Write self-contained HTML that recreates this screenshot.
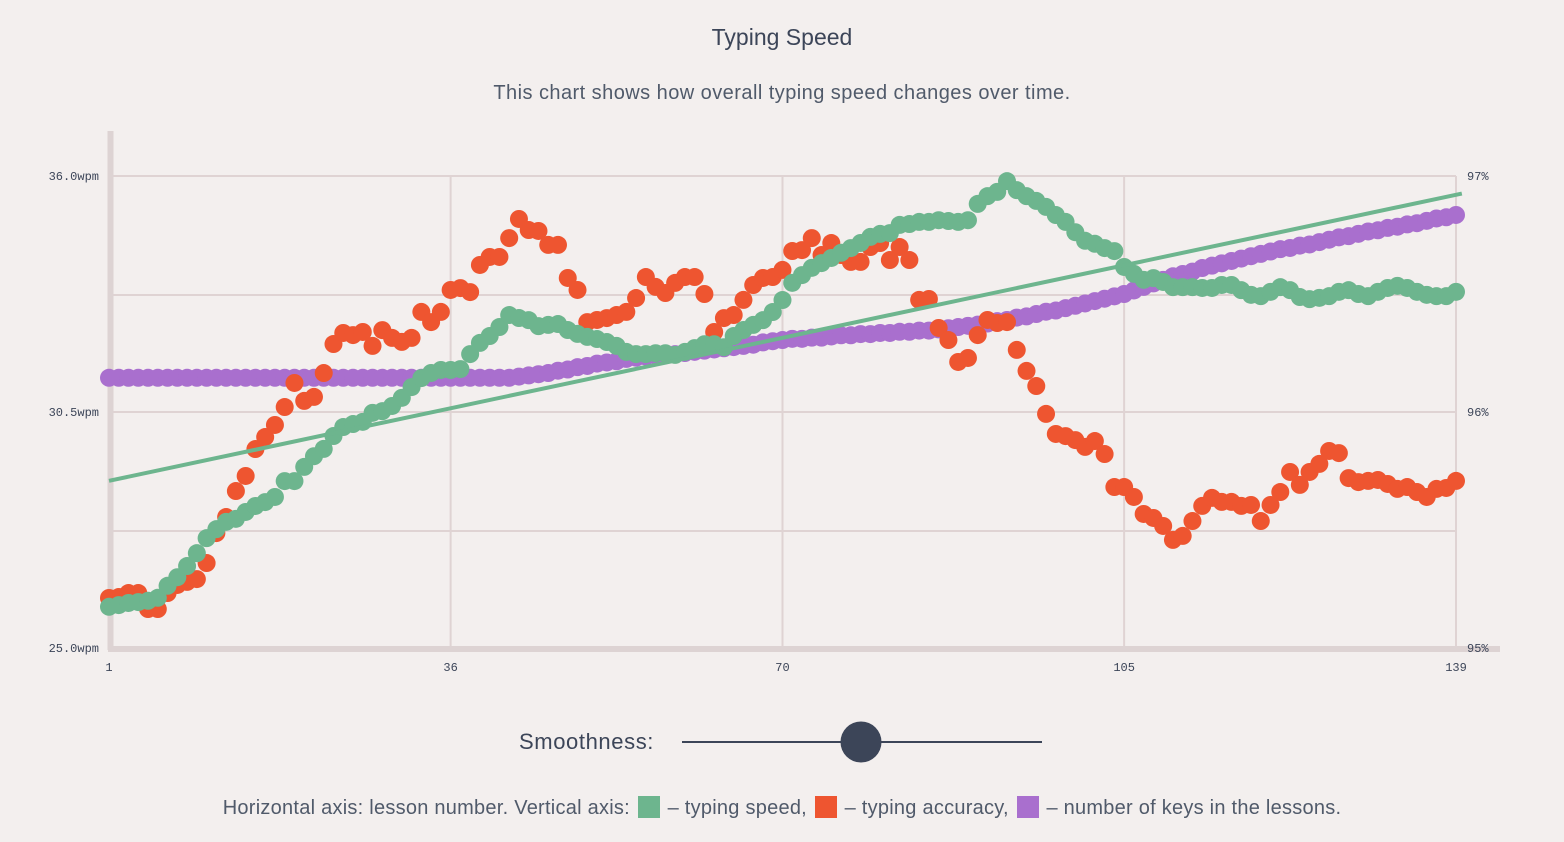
<!DOCTYPE html>
<html><head><meta charset="utf-8">
<style>
html,body{margin:0;padding:0;background:#f3efee;}
body{width:1564px;height:842px;position:relative;overflow:hidden;font-family:"Liberation Sans",sans-serif;color:#3c4558;}
.t{position:absolute;white-space:nowrap;}
#title{left:0;width:1564px;text-align:center;top:24px;font-size:23px;}
#sub{left:0;width:1564px;text-align:center;top:82px;font-size:20px;letter-spacing:0.45px;color:#505a6a;}
#smooth{left:519px;top:729px;font-size:22px;letter-spacing:0.6px;}
#legend{left:0;width:1564px;text-align:center;top:796px;font-size:20px;letter-spacing:0.25px;color:#505a6a;}
.sw{display:inline-block;width:22px;height:22px;vertical-align:-4px;margin:0 2px;}
svg{position:absolute;left:0;top:0;}
</style></head>
<body>
<div class="t" id="title">Typing Speed</div>
<div class="t" id="sub">This chart shows how overall typing speed changes over time.</div>
<svg id="chart" width="1564" height="700"></svg>
<div class="t" id="smooth">Smoothness:</div>
<svg width="1564" height="842" style="pointer-events:none">
<line x1="682" y1="742" x2="1042" y2="742" stroke="#3c4558" stroke-width="2"/>
<circle cx="861" cy="742" r="20.5" fill="#3c4558"/>
</svg>
<div class="t" id="legend">Horizontal axis: lesson number. Vertical axis: <span class="sw" style="background:#6db58e"></span> – typing speed, <span class="sw" style="background:#ee5530"></span> – typing accuracy, <span class="sw" style="background:#a96fce"></span> – number of keys in the lessons.</div>
<script>
const xTicks=[1,36,70,105,139];
const leftTicks=["36.0wpm","30.5wpm","25.0wpm"];
const leftTickVals=[36,30.5,25];
const rightTicks=["97%","96%","95%"];
const rightTickVals=[97,96,95];
const speed=[25.96,26.00,26.05,26.07,26.10,26.17,26.45,26.65,26.91,27.21,
27.56,27.77,27.94,28.01,28.17,28.31,28.40,28.52,28.89,28.89,
29.22,29.47,29.64,29.94,30.15,30.22,30.27,30.48,30.52,30.64,
30.83,31.08,31.29,31.41,31.48,31.48,31.50,31.85,32.11,32.27,
32.48,32.76,32.69,32.64,32.50,32.53,32.55,32.41,32.32,32.25,
32.20,32.13,32.04,31.90,31.85,31.85,31.87,31.87,31.83,31.90,
31.99,32.08,32.08,32.01,32.27,32.41,32.53,32.64,32.83,33.11,
33.51,33.69,33.86,33.97,34.09,34.21,34.32,34.44,34.58,34.65,
34.67,34.86,34.88,34.93,34.93,34.97,34.95,34.93,34.97,35.35,
35.53,35.63,35.88,35.67,35.53,35.42,35.28,35.09,34.93,34.69,
34.49,34.42,34.32,34.25,33.88,33.72,33.58,33.62,33.53,33.41,
33.41,33.41,33.39,33.39,33.46,33.46,33.34,33.23,33.20,33.30,
33.41,33.34,33.18,33.13,33.16,33.20,33.30,33.34,33.25,33.20,
33.30,33.39,33.44,33.39,33.30,33.23,33.20,33.20,33.30];
const accuracy=[95.212,95.216,95.233,95.233,95.165,95.165,95.233,95.267,95.280,95.292,
95.360,95.487,95.555,95.665,95.729,95.843,95.894,95.945,96.021,96.123,
96.047,96.064,96.165,96.288,96.335,96.326,96.339,96.280,96.347,96.314,
96.297,96.314,96.424,96.381,96.424,96.517,96.525,96.508,96.623,96.657,
96.657,96.737,96.818,96.771,96.767,96.708,96.708,96.568,96.517,96.381,
96.390,96.398,96.411,96.424,96.483,96.572,96.530,96.504,96.547,96.572,
96.572,96.500,96.339,96.398,96.411,96.475,96.538,96.568,96.572,96.602,
96.682,96.686,96.737,96.665,96.716,96.665,96.636,96.636,96.699,96.716,
96.644,96.699,96.644,96.475,96.479,96.356,96.305,96.212,96.229,96.326,
96.390,96.377,96.381,96.263,96.174,96.110,95.992,95.907,95.898,95.881,
95.852,95.877,95.822,95.682,95.682,95.640,95.568,95.551,95.517,95.458,
95.475,95.538,95.602,95.636,95.619,95.619,95.602,95.606,95.538,95.606,
95.661,95.746,95.691,95.746,95.780,95.835,95.826,95.720,95.703,95.708,
95.712,95.695,95.674,95.682,95.661,95.640,95.674,95.678,95.708];
const keys=[42.9,42.9,42.9,42.9,42.9,42.9,42.9,42.9,42.9,42.9,
42.9,42.9,42.9,42.9,42.9,42.9,42.9,42.9,42.9,42.9,
42.9,42.9,42.9,42.9,42.9,42.9,42.9,42.9,42.9,42.9,
42.9,42.9,42.9,42.9,42.9,42.9,42.9,42.9,42.9,42.9,
42.9,42.9,43.0,43.1,43.2,43.3,43.5,43.6,43.8,43.9,
44.1,44.2,44.3,44.5,44.6,44.7,44.8,44.8,44.9,45.0,
45.1,45.2,45.3,45.4,45.5,45.6,45.7,45.9,46.0,46.1,
46.2,46.2,46.3,46.3,46.4,46.5,46.5,46.6,46.6,46.7,
46.7,46.8,46.8,46.9,46.9,47.0,47.1,47.2,47.3,47.4,
47.5,47.7,47.8,48.0,48.1,48.3,48.5,48.6,48.8,49.0,
49.2,49.4,49.6,49.8,50.0,50.3,50.6,50.9,51.2,51.5,
51.7,51.9,52.2,52.4,52.6,52.8,53.0,53.2,53.4,53.6,
53.8,53.9,54.1,54.2,54.4,54.6,54.8,54.9,55.1,55.3,
55.4,55.6,55.7,55.9,56.0,56.2,56.4,56.5,56.7];

const NS="http://www.w3.org/2000/svg";
const svg=document.getElementById('chart');
const X0=109,X1=1456,Y0=648,Y1=176;
function xs(i){return X0+(i-1)*(X1-X0)/138;}
function ySpeed(v){return Y0-(v-25)*(Y0-Y1)/11;}
function yAcc(v){return Y0-(v-95)*(Y0-Y1)/2;}
function yKeys(v){return Y0-(v-20)*(Y0-Y1)/40;}
function mk(tag,attrs,parent){const e=document.createElementNS(NS,tag);for(const k in attrs)e.setAttribute(k,attrs[k]);(parent||svg).appendChild(e);return e;}
const grid=mk('g',{});


[176,295,412,531].forEach(y=>{const l=mk('line',{x1:112,x2:1456,y1:y,y2:y,stroke:'#dfd3d3','stroke-width':2},grid);

});
xTicks.slice(1).forEach(t=>{const l=mk('line',{x1:xs(t),x2:xs(t),y1:176,y2:648,stroke:'#dfd3d3','stroke-width':2},grid);

});
const ya=mk('line',{x1:110.5,x2:110.5,y1:131,y2:650,stroke:'#ddd3d3','stroke-width':6});


const xa=mk('line',{x1:108,x2:1500,y1:649,y2:649,stroke:'#ddd3d3','stroke-width':6});


const tf='"Liberation Mono",monospace';
leftTicks.forEach((s,k)=>{const t=mk('text',{x:99,y:ySpeed(leftTickVals[k])+4,'text-anchor':'end','font-family':tf,'font-size':12,fill:'#3c4558'});t.textContent=s;

});
rightTicks.forEach((s,k)=>{const t=mk('text',{x:1467,y:yAcc(rightTickVals[k])+4,'font-family':tf,'font-size':12,fill:'#3c4558'});t.textContent=s;

});
xTicks.forEach(v=>{const t=mk('text',{x:xs(v),y:671,'text-anchor':'middle','font-family':tf,'font-size':12,fill:'#3c4558'});t.textContent=String(v);

});
function series(arr,yf,color,name){const g=mk('g',{fill:color});


arr.forEach((v,i)=>{const c=mk('circle',{cx:xs(i+1),cy:yf(v),r:9},g);

});}
series(keys,yKeys,'#a96fce','keys');
series(accuracy,yAcc,'#ee5530','accuracy');
series(speed,ySpeed,'#6db58e','speed');
let n=speed.length,sx=0,sy=0,sxx=0,sxy=0;
speed.forEach((v,i)=>{const x=i+1;sx+=x;sy+=v;sxx+=x*x;sxy+=x*v;});
const b=(n*sxy-sx*sy)/(n*sxx-sx*sx),a=(sy-b*sx)/n;
const tl=mk('line',{x1:xs(1),y1:ySpeed(a+b),x2:xs(139.6),y2:ySpeed(a+b*139.6),stroke:'#6db58e','stroke-width':4});


</script>
</body></html>
